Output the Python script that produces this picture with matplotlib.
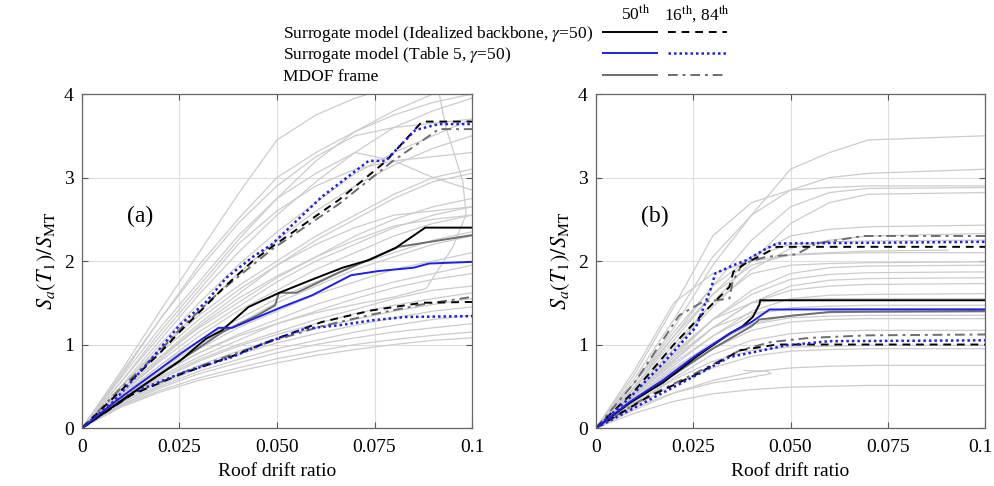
import numpy as np
import matplotlib
matplotlib.use("Agg")
import matplotlib.pyplot as plt
import matplotlib.transforms as mtransforms
from matplotlib.lines import Line2D

plt.rcParams['font.family'] = ['Liberation Serif', 'DejaVu Serif']
plt.rcParams['mathtext.fontset'] = 'stix'

# ---- data ----
# gray IDA curves, panel (a): Sa/SMT at each drift of drift_a
drift_a = [0, 0.01, 0.02, 0.03, 0.04, 0.05, 0.06, 0.07, 0.08, 0.09, 0.1]
ida_a = [
    [0, 0.68, 1.4, 2.1, 2.8, 3.45, 3.75, 3.95, 4.1, 4.2, 4.3],
    [0, 0.62, 1.3, 1.95, 2.5, 3.0, 3.3, 3.55, 3.75, 3.9, 4.0],
    [0, 0.55, 1.15, 1.7, 2.25, 2.75, 3.2, 3.55, 3.8, 4.0, 4.1],
    [0, 0.5, 1.05, 1.6, 2.1, 2.55, 2.95, 3.3, 3.6, 3.8, 3.95],
    [0, 0.48, 1.0, 1.5, 1.95, 2.35, 2.7, 3.05, 3.3, 3.5, 3.7],
    [0, 0.45, 0.95, 1.4, 1.85, 2.25, 2.6, 2.9, 3.15, 3.35, 3.5],
    [0, 0.6, 1.2, 1.75, 2.3, 2.75, 3.05, 3.3, 3.2, 3.0, 2.85],
    [0, 0.5, 0.95, 1.35, 1.7, 2.0, 2.3, 2.55, 2.8, 3.0, 3.1],
    [0, 0.42, 0.85, 1.25, 1.6, 1.95, 2.25, 2.5, 2.75, 2.95, 3.05],
    [0, 0.42, 0.85, 1.2, 1.5, 1.8, 2.05, 2.3, 2.5, 2.65, 2.75],
    [0, 0.4, 0.8, 1.15, 1.45, 1.75, 2.0, 2.2, 2.4, 2.55, 2.65],
    [0, 0.38, 0.75, 1.1, 1.4, 1.65, 1.9, 2.1, 2.3, 2.45, 2.55],
    [0, 0.38, 0.75, 1.05, 1.3, 1.55, 1.75, 1.95, 2.1, 2.25, 2.35],
    [0, 0.36, 0.7, 1.0, 1.25, 1.5, 1.7, 1.9, 2.05, 2.2, 2.3],
    [0, 0.36, 0.68, 0.95, 1.2, 1.4, 1.6, 1.75, 1.9, 2.0, 2.1],
    [0, 0.35, 0.65, 0.9, 1.12, 1.3, 1.48, 1.62, 1.75, 1.85, 1.95],
    [0, 0.34, 0.62, 0.85, 1.05, 1.25, 1.4, 1.55, 1.68, 1.78, 1.85],
    [0, 0.33, 0.6, 0.82, 1.0, 1.15, 1.3, 1.42, 1.55, 1.65, 1.7],
    [0, 0.32, 0.58, 0.8, 0.98, 1.12, 1.25, 1.37, 1.47, 1.55, 1.62],
    [0, 0.3, 0.55, 0.75, 0.92, 1.07, 1.2, 1.3, 1.4, 1.48, 1.55],
    [0, 0.3, 0.52, 0.72, 0.88, 1.02, 1.13, 1.23, 1.32, 1.4, 1.45],
    [0, 0.28, 0.5, 0.68, 0.82, 0.95, 1.05, 1.15, 1.23, 1.3, 1.35],
    [0, 0.27, 0.48, 0.65, 0.78, 0.9, 1.0, 1.08, 1.15, 1.2, 1.25],
    [0, 0.26, 0.45, 0.6, 0.72, 0.83, 0.92, 1.0, 1.06, 1.11, 1.15],
    [0, 0.25, 0.43, 0.57, 0.68, 0.78, 0.87, 0.94, 1.0, 1.05, 1.08],
    [0, 0.55, 1.1, 1.65, 2.2, 2.6, 2.9, 3.1, 3.2, 3.25, 3.3],
    [0, 0.65, 1.3, 1.9, 2.45, 2.9, 3.25, 3.5, 3.6, 3.65, 3.7],
    [0, 0.45, 0.9, 1.3, 1.65, 1.95, 2.2, 2.4, 2.55, 2.6, 2.65],
    [0, 0.4, 0.82, 1.22, 1.55, 1.82, 2.05, 2.25, 2.42, 2.5, 2.55],
]
# one record in (a) that drifts back (non-monotonic drift)
back_a_x = [0, 0.01, 0.02, 0.03, 0.04, 0.05, 0.06, 0.07, 0.08, 0.0882, 0.095, 0.0985, 0.0976, 0.0933, 0.0916]
back_a_y = [0, 0.35, 0.65, 0.9, 1.1, 1.25, 1.38, 1.48, 1.57, 1.67, 2.16, 2.56, 2.96, 3.6, 4.0]

# gray IDA curves, panel (b)
drift_b = [0, 0.01, 0.02, 0.03, 0.04, 0.05, 0.06, 0.07, 0.1]
ida_b = [
    [0, 0.55, 1.2, 1.95, 2.55, 3.1, 3.3, 3.45, 3.5],
    [0, 0.6, 1.3, 2.05, 2.55, 2.85, 3.0, 3.05, 3.1],
    [0, 0.65, 1.45, 2.3, 2.7, 2.85, 2.88, 2.9, 2.9],
    [0, 0.5, 1.1, 1.7, 2.25, 2.65, 2.82, 2.87, 2.88],
    [0, 0.45, 0.95, 1.5, 2.0, 2.45, 2.7, 2.8, 2.82],
    [0, 0.5, 1.05, 1.6, 2.05, 2.3, 2.38, 2.41, 2.43],
    [0, 0.45, 0.95, 1.45, 1.9, 2.15, 2.25, 2.3, 2.33],
    [0, 0.55, 1.15, 1.7, 2.05, 2.2, 2.23, 2.24, 2.25],
    [0, 0.7, 1.5, 1.85, 2.0, 2.07, 2.09, 2.1, 2.1],
    [0, 0.48, 1.0, 1.5, 1.85, 1.95, 1.97, 1.98, 1.99],
    [0, 0.4, 0.85, 1.3, 1.65, 1.85, 1.92, 1.94, 1.95],
    [0, 0.42, 0.88, 1.3, 1.6, 1.78, 1.84, 1.86, 1.87],
    [0, 0.38, 0.8, 1.2, 1.5, 1.7, 1.77, 1.79, 1.8],
    [0, 0.4, 0.82, 1.2, 1.5, 1.65, 1.7, 1.72, 1.73],
    [0, 0.36, 0.75, 1.1, 1.4, 1.55, 1.59, 1.6, 1.61],
    [0, 0.42, 0.9, 1.3, 1.5, 1.54, 1.55, 1.55, 1.55],
    [0, 0.38, 0.78, 1.1, 1.35, 1.44, 1.46, 1.47, 1.47],
    [0, 0.4, 0.85, 1.2, 1.38, 1.42, 1.43, 1.43, 1.43],
    [0, 0.34, 0.7, 1.0, 1.25, 1.35, 1.38, 1.39, 1.39],
    [0, 0.35, 0.72, 1.02, 1.24, 1.32, 1.34, 1.35, 1.35],
    [0, 0.32, 0.65, 0.95, 1.17, 1.27, 1.3, 1.31, 1.31],
    [0, 0.3, 0.6, 0.88, 1.05, 1.13, 1.16, 1.17, 1.17],
    [0, 0.3, 0.58, 0.8, 0.93, 0.97, 0.98, 0.99, 0.99],
    [0, 0.27, 0.52, 0.72, 0.86, 0.92, 0.94, 0.95, 0.95],
    [0, 0.22, 0.42, 0.57, 0.67, 0.72, 0.74, 0.75, 0.75],
    [0, 0.18, 0.32, 0.41, 0.46, 0.49, 0.5, 0.51, 0.51],
]
# short / collapsing records in (b)
short_b_x = [0, 0.01, 0.02, 0.03, 0.04, 0.05, 0.07, 0.0905]
short_b_y = [0, 0.55, 1.1, 1.6, 1.95, 2.08, 2.12, 2.13]
loop_b_x = [0, 0.01, 0.02, 0.03, 0.04, 0.045, 0.044, 0.038]
loop_b_y = [0, 0.25, 0.42, 0.54, 0.61, 0.65, 0.68, 0.69]

# panel (a) percentile curves
a_ib50_x = [0, 0.0164, 0.025, 0.0318, 0.0359, 0.0427, 0.0506, 0.0591, 0.0668, 0.0735, 0.0805, 0.088, 0.1]
a_ib50_y = [0, 0.53, 0.80, 1.07, 1.17, 1.45, 1.62, 1.78, 1.92, 2.01, 2.16, 2.40, 2.40]
a_t550_x = [0, 0.0086, 0.0171, 0.0256, 0.035, 0.0385, 0.0513, 0.059, 0.069, 0.076, 0.085, 0.089, 0.1]
a_t550_y = [0, 0.32, 0.61, 0.90, 1.20, 1.20, 1.45, 1.59, 1.83, 1.88, 1.92, 1.97, 1.99]
a_md50_x = [0, 0.01, 0.02, 0.03, 0.036, 0.045, 0.0495, 0.0505, 0.055, 0.0658, 0.0812, 0.1]
a_md50_y = [0, 0.33, 0.65, 0.96, 1.15, 1.35, 1.47, 1.62, 1.62, 1.86, 2.17, 2.31]

a_ib84_x = [0, 0.01, 0.02, 0.025, 0.037, 0.0438, 0.0487, 0.0658, 0.0778, 0.0872, 0.1]
a_ib84_y = [0, 0.45, 0.90, 1.15, 1.71, 2.0, 2.17, 2.73, 3.19, 3.67, 3.67]
a_t584_x = [0, 0.0079, 0.0164, 0.025, 0.0318, 0.037, 0.0438, 0.0487, 0.0615, 0.0735, 0.0778, 0.0855, 0.0915, 0.1]
a_t584_y = [0, 0.31, 0.75, 1.23, 1.51, 1.80, 2.05, 2.20, 2.77, 3.20, 3.20, 3.57, 3.64, 3.64]
a_md84_x = [0, 0.01, 0.02, 0.025, 0.035, 0.0487, 0.0658, 0.0795, 0.0915, 0.1]
a_md84_y = [0, 0.48, 0.92, 1.18, 1.62, 2.14, 2.68, 3.19, 3.58, 3.58]

a_ib16_x = [0, 0.0128, 0.0256, 0.0385, 0.0487, 0.0615, 0.0744, 0.0872, 0.1]
a_ib16_y = [0, 0.40, 0.65, 0.86, 1.05, 1.27, 1.41, 1.50, 1.51]
a_t516_x = [0, 0.0128, 0.0256, 0.0385, 0.047, 0.0572, 0.0658, 0.0744, 0.0829, 0.1]
a_t516_y = [0, 0.42, 0.66, 0.85, 1.02, 1.19, 1.23, 1.29, 1.33, 1.34]
a_md16_x = [0, 0.0128, 0.0256, 0.0385, 0.0487, 0.0615, 0.0744, 0.0872, 0.1]
a_md16_y = [0, 0.40, 0.66, 0.88, 1.04, 1.22, 1.36, 1.48, 1.57]

# panel (b) percentile curves
b_ib50_x = [0, 0.0086, 0.0171, 0.0257, 0.0343, 0.0377, 0.0403, 0.0411, 0.042, 0.0422, 0.1]
b_ib50_y = [0, 0.30, 0.54, 0.85, 1.13, 1.22, 1.33, 1.40, 1.48, 1.53, 1.53]
b_t550_x = [0, 0.0086, 0.0171, 0.0257, 0.0343, 0.04, 0.0446, 0.1]
b_t550_y = [0, 0.31, 0.57, 0.87, 1.13, 1.27, 1.42, 1.42]
b_md50_x = [0, 0.01, 0.02, 0.03, 0.04, 0.042, 0.0514, 0.06, 0.1]
b_md50_y = [0, 0.34, 0.64, 0.95, 1.22, 1.30, 1.35, 1.39, 1.40]

b_ib84_x = [0, 0.01, 0.02, 0.0283, 0.0343, 0.0353, 0.0387, 0.043, 0.0465, 0.1]
b_ib84_y = [0, 0.45, 1.0, 1.41, 1.69, 1.87, 1.98, 2.08, 2.17, 2.17]
b_t584_x = [0, 0.0086, 0.0171, 0.0257, 0.0297, 0.0306, 0.0353, 0.0387, 0.043, 0.0465, 0.1]
b_t584_y = [0, 0.36, 0.77, 1.21, 1.69, 1.85, 1.95, 2.01, 2.13, 2.21, 2.23]
b_md84_x = [0, 0.01, 0.0214, 0.0274, 0.0343, 0.0351, 0.0377, 0.0437, 0.0514, 0.0567, 0.0687, 0.1]
b_md84_y = [0, 0.55, 1.35, 1.51, 1.55, 1.75, 1.97, 2.05, 2.08, 2.21, 2.30, 2.30]

b_ib16_x = [0, 0.0129, 0.0257, 0.037, 0.0465, 0.1]
b_ib16_y = [0, 0.36, 0.64, 0.93, 1.0, 1.0]
b_t516_x = [0, 0.0171, 0.0257, 0.0343, 0.0386, 0.0428, 0.0488, 0.06, 0.1]
b_t516_y = [0, 0.42, 0.63, 0.85, 0.89, 0.93, 0.99, 1.04, 1.05]
b_md16_x = [0, 0.0129, 0.0257, 0.037, 0.045, 0.055, 0.07, 0.1]
b_md16_y = [0, 0.37, 0.66, 0.93, 1.03, 1.08, 1.11, 1.12]

x_ticks = [0, 0.025, 0.05, 0.075, 0.1]
x_ticklabels = ['0', '0.025', '0.050', '0.075', '0.1']
y_ticks = [0, 1, 2, 3, 4]

# ---- styles ----
ida_col = '#cccccc'
blue = '#1f1fe6'
mdof_col = '#6e6e6e'
st_ib50 = dict(color='black', lw=1.4, ls='-')
st_ib = dict(color='black', lw=1.4, ls=(0, (4, 3)))
st_t550 = dict(color=blue, lw=1.4, ls='-')
st_t5 = dict(color=blue, lw=1.8, ls=(0, (1, 1.2)))
st_md50 = dict(color=mdof_col, lw=1.4, ls='-')
st_md = dict(color=mdof_col, lw=1.4, ls=(0, (5, 2.5, 1.5, 2.5)))

fig = plt.figure(figsize=(9.95, 4.86), dpi=100)
ax_a = fig.add_axes([0.0824, 0.1193, 0.392, 0.6872])
ax_b = fig.add_axes([0.599, 0.1193, 0.391, 0.6872])


def setup(ax, tag):
    ax.set_xlim(0, 0.1)
    ax.set_ylim(0, 4)
    ax.set_xticks(x_ticks)
    ax.set_xticklabels(x_ticklabels)
    ax.set_yticks(y_ticks)
    ax.grid(True, color='#dddddd', lw=0.8)
    ax.set_axisbelow(True)
    ax.tick_params(direction='in', length=4, top=True, right=True,
                   labelsize=14, color='#555555')
    ax.tick_params(axis='x', pad=8)
    ax.tick_params(axis='y', pad=6)
    for s in ax.spines.values():
        s.set_color('#666666')
        s.set_linewidth(0.9)
    ax.set_xlabel('Roof drift ratio', fontsize=14, labelpad=5)
    ax.set_ylabel(r'$S_a(T_1)/S_{\mathrm{MT}}$', fontsize=16, labelpad=4)
    ax.text(0.015, 2.53, tag, fontsize=17, ha='center', va='center')


# panel (a)
for row in ida_a:
    ax_a.plot(drift_a, row, color=ida_col, lw=0.9)
ax_a.plot(back_a_x, back_a_y, color=ida_col, lw=0.9)
ax_a.plot(a_md84_x, a_md84_y, **st_md)
ax_a.plot(a_md16_x, a_md16_y, **st_md)
ax_a.plot(a_ib84_x, a_ib84_y, **st_ib)
ax_a.plot(a_ib16_x, a_ib16_y, **st_ib)
ax_a.plot(a_t584_x, a_t584_y, **st_t5)
ax_a.plot(a_t516_x, a_t516_y, **st_t5)
ax_a.plot(a_md50_x, a_md50_y, **st_md50)
ax_a.plot(a_ib50_x, a_ib50_y, **st_ib50)
ax_a.plot(a_t550_x, a_t550_y, **st_t550)
setup(ax_a, '(a)')

# panel (b)
for row in ida_b:
    ax_b.plot(drift_b, row, color=ida_col, lw=0.9)
ax_b.plot(short_b_x, short_b_y, color=ida_col, lw=0.9)
ax_b.plot(loop_b_x, loop_b_y, color=ida_col, lw=0.9)
ax_b.plot(b_md84_x, b_md84_y, **st_md)
ax_b.plot(b_md16_x, b_md16_y, **st_md)
ax_b.plot(b_ib84_x, b_ib84_y, **st_ib)
ax_b.plot(b_ib16_x, b_ib16_y, **st_ib)
ax_b.plot(b_t584_x, b_t584_y, **st_t5)
ax_b.plot(b_t516_x, b_t516_y, **st_t5)
ax_b.plot(b_md50_x, b_md50_y, **st_md50)
ax_b.plot(b_ib50_x, b_ib50_y, **st_ib50)
ax_b.plot(b_t550_x, b_t550_y, **st_t550)
setup(ax_b, '(b)')

# keep the last x label of (b) inside the figure
last = ax_b.get_xticklabels()[-1]
last.set_transform(last.get_transform() + mtransforms.ScaledTranslation(-5 / 100, 0, fig.dpi_scale_trans))

# ---- legend block at the top (figure pixel coords) ----
W, H = 995.0, 486.0
def fx(px):
    return px / W
def fy(py):
    return 1 - py / H

fig.text(fx(635), fy(14), r'50$^{\mathrm{th}}$', fontsize=12.5, ha='center', va='center')
fig.text(fx(697), fy(14), r'16$^{\mathrm{th}}$, 84$^{\mathrm{th}}$', fontsize=12.5, ha='center', va='center')
rows = [
    (r'Surrogate model (Idealized backbone, $\gamma$=50)', 34, st_ib50, st_ib),
    (r'Surrogate model (Table 5, $\gamma$=50)', 55, st_t550, st_t5),
    ('MDOF frame', 77, st_md50, st_md),
]
for label, py, s50, s1684 in rows:
    fig.text(fx(283), fy(py), label, fontsize=12.5, ha='left', va='center')
    fig.add_artist(Line2D([fx(603), fx(657)], [fy(py - 2), fy(py - 2)], **s50))
    fig.add_artist(Line2D([fx(668), fx(727)], [fy(py - 2), fy(py - 2)], **s1684))

fig.savefig('out.png', dpi=100)
